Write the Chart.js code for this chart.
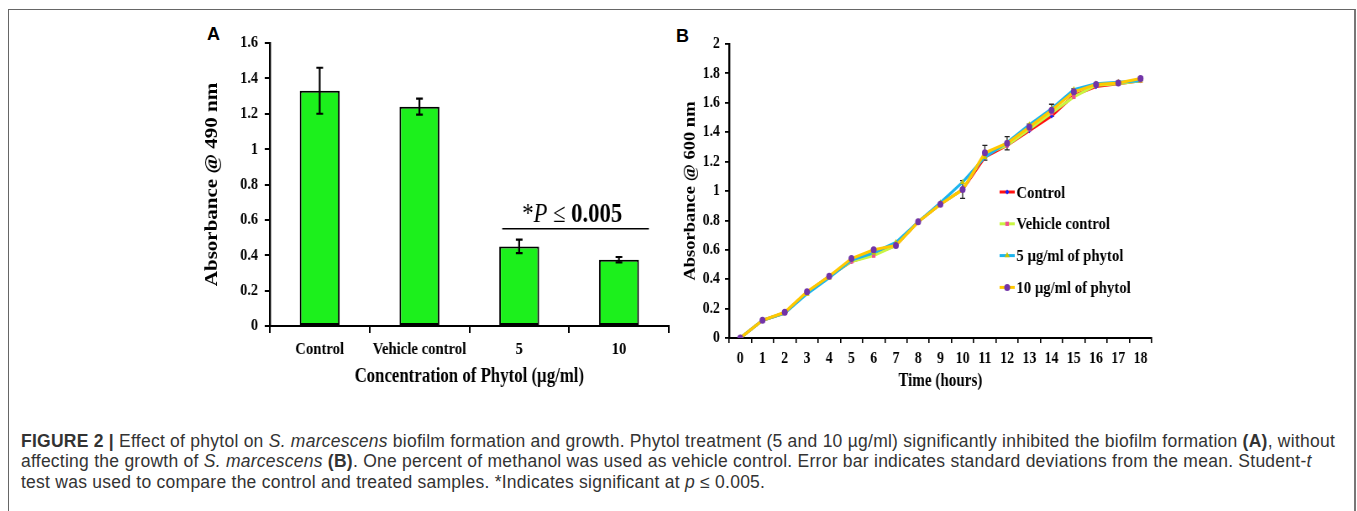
<!DOCTYPE html>
<html>
<head>
<meta charset="utf-8">
<script src="https://cdn.jsdelivr.net/npm/chart.js@4.4.1/dist/chart.umd.min.js"></script>
<style>
  body { margin: 0; background: #fff; width: 1357px; height: 511px; overflow: hidden; position: relative; font-family: 'Liberation Sans', Arial, sans-serif; }
  .frame { position: absolute; left: 8px; top: 9px; width: 1345px; height: 560px; border: 1px solid #666; border-right: 2px solid #777; }
  canvas { position: absolute; transform-origin: 0 0; transform: scaleX(0.84); }
  #chartA { left: 190px; top: 20px; }
  #chartB { left: 672px; top: 20px; }
  .panel { position: absolute; font: bold 18px 'Liberation Sans', Arial, sans-serif; line-height: 20px; color: #000; }
  .caption { position: absolute; left: 21px; top: 431px; font-size: 17.5px; letter-spacing: 0.25px; line-height: 20.3px; color: #333; white-space: nowrap; }
</style>
</head>
<body>
<div class="frame"></div>
<div class="panel" style="left:207px;top:24px">A</div>
<div class="panel" style="left:676px;top:26px">B</div>
<canvas id="chartA" width="575" height="372"></canvas>
<canvas id="chartB" width="580" height="375"></canvas>
<div class="caption">
  <b>FIGURE 2 |</b> Effect of phytol on <i>S. marcescens</i> biofilm formation and growth. Phytol treatment (5 and 10 µg/ml) significantly inhibited the biofilm formation <b>(A)</b>, without<br>
  affecting the growth of <i>S. marcescens</i> <b>(B)</b>. One percent of methanol was used as vehicle control. Error bar indicates standard deviations from the mean. Student-<i>t</i><br>
  test was used to compare the control and treated samples. *Indicates significant at <i>p</i> ≤ 0.005.
</div>
<script>
// panel A: biofilm (absorbance at 490 nm)
const categoriesA = ['Control', 'Vehicle control', '5', '10'];
const valuesA = [1.33, 1.24, 0.45, 0.375];
const errA = [0.13, 0.045, 0.038, 0.015];
const yTicksA = [0, 0.2, 0.4, 0.6, 0.8, 1, 1.2, 1.4, 1.6];

// panel B: growth curve (absorbance at 600 nm)
const hours = ['0', '1', '2', '3', '4', '5', '6', '7', '8', '9', '10', '11', '12', '13', '14', '15', '16', '17', '18'];
const control = [0, 0.12, 0.17, 0.31, 0.42, 0.52, 0.57, 0.63, 0.79, 0.91, 1.01, 1.23, 1.31, 1.41, 1.51, 1.65, 1.71, 1.73, 1.75];
const vehicle = [0, 0.12, 0.17, 0.31, 0.42, 0.52, 0.56, 0.63, 0.79, 0.91, 1.01, 1.25, 1.31, 1.42, 1.53, 1.64, 1.72, 1.73, 1.75];
const phytol5 = [0, 0.12, 0.17, 0.30, 0.41, 0.53, 0.58, 0.65, 0.79, 0.92, 1.06, 1.23, 1.33, 1.45, 1.56, 1.69, 1.73, 1.74, 1.75];
const phytol10 = [0, 0.12, 0.175, 0.315, 0.42, 0.54, 0.60, 0.63, 0.79, 0.91, 1.01, 1.26, 1.325, 1.435, 1.55, 1.675, 1.725, 1.735, 1.765];
const err10 = [0, 0, 0, 0, 0, 0, 0, 0, 0, 0, 0.06, 0.05, 0.045, 0.02, 0.04, 0.02, 0.01, 0.01, 0.01];
const seriesNames = ['Control', 'Vehicle control', '5 µg/ml of phytol', '10 µg/ml of phytol'];
const yTicksB = [0, 0.2, 0.4, 0.6, 0.8, 1, 1.2, 1.4, 1.6, 1.8, 2];

const serif = "'Liberation Serif', 'Times New Roman', serif";

// error bars on the bars of A
const barErrors = {
  id: 'barErrors',
  afterDatasetsDraw(chart) {
    const ctx = chart.ctx, y = chart.scales.y;
    chart.getDatasetMeta(0).data.forEach((bar, i) => {
      const top = y.getPixelForValue(valuesA[i] + errA[i]);
      const bot = y.getPixelForValue(valuesA[i] - errA[i]);
      ctx.save();
      ctx.strokeStyle = '#000';
      ctx.lineWidth = 2.2;
      ctx.beginPath();
      ctx.moveTo(bar.x, top); ctx.lineTo(bar.x, bot);
      ctx.moveTo(bar.x - 4, top); ctx.lineTo(bar.x + 4, top);
      ctx.moveTo(bar.x - 4, bot); ctx.lineTo(bar.x + 4, bot);
      ctx.stroke();
      ctx.restore();
    });
  }
};

// significance line over the two phytol bars
const sigMark = {
  id: 'sigMark',
  afterDraw(chart) {
    const ctx = chart.ctx, x = chart.scales.x, y = chart.scales.y;
    const w = x.getPixelForValue(1) - x.getPixelForValue(0);
    const left = x.getPixelForValue(2) - 0.17 * w;
    const right = x.getPixelForValue(3) + 0.3 * w;
    const ly = y.getPixelForValue(0.55);
    ctx.save();
    ctx.strokeStyle = '#000';
    ctx.lineWidth = 1.5;
    ctx.beginPath();
    ctx.moveTo(left, ly); ctx.lineTo(right, ly);
    ctx.stroke();
    const parts = [
      ['*', '27px ' + serif],
      ['P', 'italic 27px ' + serif],
      [' ≤ ', '27px ' + serif],
      ['0.005', 'bold 27px ' + serif]
    ];
    let total = 0;
    parts.forEach(p => { ctx.font = p[1]; total += ctx.measureText(p[0]).width; });
    let tx = (left + right) / 2 - 4 - total / 2;
    ctx.fillStyle = '#000';
    ctx.textBaseline = 'alphabetic';
    parts.forEach(p => { ctx.font = p[1]; ctx.fillText(p[0], tx, ly - 7); tx += ctx.measureText(p[0]).width; });
    ctx.restore();
  }
};

new Chart(document.getElementById('chartA'), {
  type: 'bar',
  data: {
    labels: categoriesA,
    datasets: [{
      data: valuesA,
      backgroundColor: '#1cf01c',
      borderColor: '#000',
      borderWidth: 2,
      borderSkipped: false,
      barPercentage: 0.4,
      categoryPercentage: 1
    }]
  },
  options: {
    responsive: false,
    animation: false,
    layout: { padding: { left: 0, right: 5, top: 23, bottom: 0 } },
    plugins: { legend: { display: false }, tooltip: { enabled: false } },
    scales: {
      x: {
        afterFit: s => { s.height = 66; },
        grid: { drawOnChartArea: false, drawTicks: true, tickLength: 7, color: '#000', lineWidth: 2, offset: true },
        border: { color: '#000', width: 2 },
        ticks: { color: '#000', padding: 6, font: { family: serif, size: 17.5, weight: 'bold' }, maxRotation: 0, autoSkip: false },
        title: { display: true, text: 'Concentration of Phytol (µg/ml)', color: '#000', padding: { top: 0, bottom: 3 }, font: { family: serif, size: 20, weight: 'bold' } }
      },
      y: {
        min: 0, max: 1.6,
        afterFit: s => { s.width = 95; },
        afterBuildTicks: s => { s.ticks = yTicksA.map(v => ({ value: v })); },
        grid: { drawOnChartArea: false, drawTicks: true, tickLength: 6, color: '#000', lineWidth: 2 },
        border: { color: '#000', width: 2.4 },
        ticks: { color: '#000', padding: 8, font: { family: serif, size: 17, weight: 'bold' }, callback: v => String(v) },
        title: { display: true, text: 'Absorbance @ 490 nm', color: '#000', padding: { top: 14, bottom: 0 }, font: { family: serif, size: 21, weight: 'bold' } }
      }
    }
  },
  plugins: [barErrors, sigMark]
});

// error bars on the 10 µg/ml curve
const lineErrors = {
  id: 'lineErrors',
  beforeDatasetsDraw(chart) {
    const ctx = chart.ctx, y = chart.scales.y;
    chart.getDatasetMeta(3).data.forEach((pt, i) => {
      if (!err10[i]) return;
      const top = y.getPixelForValue(phytol10[i] + err10[i]);
      const bot = y.getPixelForValue(phytol10[i] - err10[i]);
      ctx.save();
      ctx.strokeStyle = '#222';
      ctx.lineWidth = 1.3;
      ctx.beginPath();
      ctx.moveTo(pt.x, top); ctx.lineTo(pt.x, bot);
      ctx.moveTo(pt.x - 3, top); ctx.lineTo(pt.x + 3, top);
      ctx.moveTo(pt.x - 3, bot); ctx.lineTo(pt.x + 3, bot);
      ctx.stroke();
      ctx.restore();
    });
  }
};

// legend drawn with line + marker, like the original
const legendB = {
  id: 'legendB',
  afterDraw(chart, args, opts) {
    const ctx = chart.ctx;
    chart.data.datasets.forEach((ds, i) => {
      const yy = opts.top + i * opts.gap;
      ctx.save();
      ctx.strokeStyle = ds.borderColor;
      ctx.lineWidth = 3;
      ctx.beginPath();
      ctx.moveTo(opts.left, yy); ctx.lineTo(opts.left + opts.len, yy);
      ctx.stroke();
      ctx.fillStyle = ds.pointBackgroundColor;
      ctx.strokeStyle = ds.pointBackgroundColor;
      Chart.helpers.drawPoint(ctx, { pointStyle: ds.pointStyle, radius: ds.pointRadius, rotation: 0, borderWidth: 0 }, opts.left + opts.len / 2, yy);
      ctx.fillStyle = '#000';
      ctx.font = 'bold 17.5px ' + serif;
      ctx.textBaseline = 'middle';
      ctx.fillText(ds.label, opts.left + opts.len + 2, yy + 1);
      ctx.restore();
    });
  }
};

new Chart(document.getElementById('chartB'), {
  type: 'line',
  data: {
    labels: hours,
    datasets: [
      { label: seriesNames[0], data: control, borderColor: '#ff1010', pointBackgroundColor: '#1020ff', pointStyle: 'rectRot', pointRadius: 2.5, order: 3 },
      { label: seriesNames[1], data: vehicle, borderColor: '#c8f542', pointBackgroundColor: '#f0508c', pointStyle: 'rect', pointRadius: 3, order: 2 },
      { label: seriesNames[2], data: phytol5, borderColor: '#1cb4ee', pointBackgroundColor: '#c8c400', pointStyle: 'triangle', pointRadius: 3.5, order: 1 },
      { label: seriesNames[3], data: phytol10, borderColor: '#ffc800', pointBackgroundColor: '#7234a8', pointStyle: 'circle', pointRadius: 3.5, order: 0 }
    ].map(d => Object.assign(d, { borderWidth: 3, tension: 0, pointBorderWidth: 0, fill: false }))
  },
  options: {
    responsive: false,
    animation: false,
    layout: { padding: { left: 0, right: 9, top: 24, bottom: 0 } },
    plugins: {
      legend: { display: false },
      tooltip: { enabled: false },
      legendB: { left: 390, len: 18, top: 172, gap: 31.8 }
    },
    scales: {
      x: {
        offset: true,
        afterFit: s => { s.height = 57; },
        grid: { drawOnChartArea: false, drawTicks: true, tickLength: 5, color: '#000', lineWidth: 1.6, offset: true },
        border: { color: '#000', width: 2 },
        ticks: { color: '#000', padding: 6, font: { family: serif, size: 16.5, weight: 'bold' }, maxRotation: 0, autoSkip: false },
        title: { display: true, text: 'Time (hours)', color: '#000', padding: { top: 0, bottom: 3 }, font: { family: serif, size: 18, weight: 'bold' } }
      },
      y: {
        min: 0, max: 2,
        afterFit: s => { s.width = 68; },
        afterBuildTicks: s => { s.ticks = yTicksB.map(v => ({ value: v })); },
        grid: { drawOnChartArea: false, drawTicks: true, tickLength: 5, color: '#000', lineWidth: 1.8 },
        border: { color: '#000', width: 2.4 },
        ticks: { color: '#000', padding: 6, font: { family: serif, size: 16.5, weight: 'bold' }, callback: v => String(v) },
        title: { display: true, text: 'Absorbance @ 600 nm', color: '#000', padding: { top: 11, bottom: 0 }, font: { family: serif, size: 18.5, weight: 'bold' } }
      }
    }
  },
  plugins: [lineErrors, legendB]
});
</script>
</body>
</html>
